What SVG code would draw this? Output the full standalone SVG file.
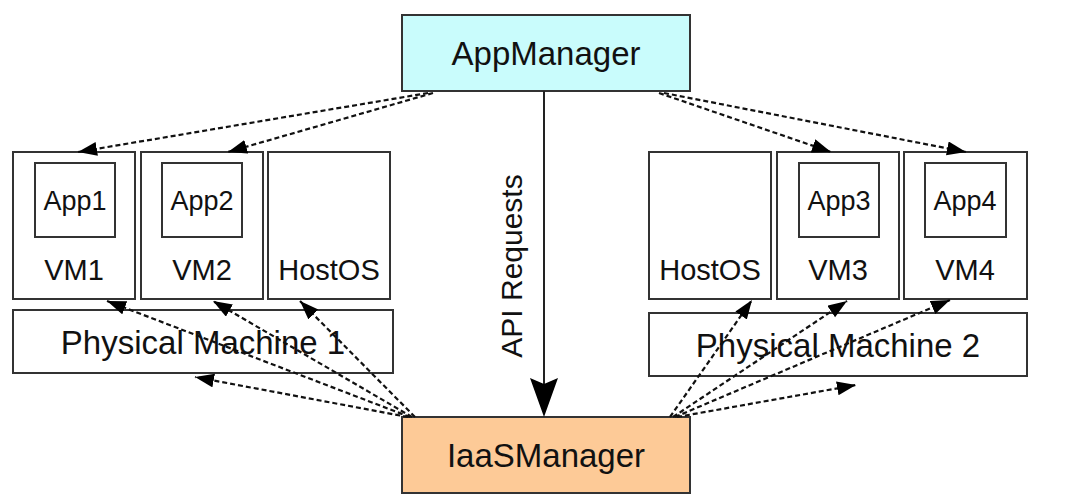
<svg xmlns="http://www.w3.org/2000/svg" width="1069" height="495" viewBox="0 0 1069 495">
  <style>
    .box { fill: #ffffff; stroke: #333333; stroke-width: 2; }
    .app { fill: #ffffff; stroke: #333333; stroke-width: 2; }
    .mgr-app { fill: #c9fcfc; stroke: #333333; stroke-width: 2; }
    .mgr-iaas { fill: #fdca97; stroke: #333333; stroke-width: 2; }
    text { font-family: "Liberation Sans", Arial, Helvetica, sans-serif; fill: #111111; text-anchor: middle; }
    .t-app { font-size: 27px; }
    .t-vm { font-size: 29px; }
    .t-pm { font-size: 33px; }
    .t-mgr { font-size: 33px; }
    .t-api { font-size: 30px; }
    .dash { fill: none; stroke: #111111; stroke-width: 2.2; stroke-dasharray: 5 3; marker-end: url(#head); }
    .solid { fill: none; stroke: #222222; stroke-width: 2; }
  </style>
  <defs>
    <marker id="head" markerUnits="userSpaceOnUse" markerWidth="20" markerHeight="15" refX="19" refY="7" orient="auto">
      <path d="M0,0 L19,7 L0,14 Z" fill="#000000"/>
    </marker>
  </defs>

  <rect width="1069" height="495" fill="#ffffff"/>

  <!-- managers -->
  <g id="appmanager">
    <rect class="mgr-app" x="402" y="15" width="288" height="76"/>
    <text class="t-mgr" x="546" y="65">AppManager</text>
  </g>
  <g id="iaasmanager">
    <rect class="mgr-iaas" x="402" y="417" width="288" height="76"/>
    <text class="t-mgr" x="546" y="467">IaaSManager</text>
  </g>

  <!-- physical machine 1 -->
  <g id="vm1">
    <rect class="box" x="13" y="152" width="122" height="147"/>
    <text class="t-vm" x="74" y="280">VM1</text>
  </g>
  <g id="app1">
    <rect class="app" x="35" y="163" width="80" height="74"/>
    <text class="t-app" x="75" y="210">App1</text>
  </g>
  <g id="vm2">
    <rect class="box" x="141" y="152" width="122" height="147"/>
    <text class="t-vm" x="202" y="280">VM2</text>
  </g>
  <g id="app2">
    <rect class="app" x="162" y="163" width="80" height="74"/>
    <text class="t-app" x="202" y="210">App2</text>
  </g>
  <g id="hostos1">
    <rect class="box" x="268" y="152" width="122" height="147"/>
    <text class="t-vm" x="329" y="280">HostOS</text>
  </g>
  <g id="pm1">
    <rect class="box" x="13" y="310" width="380" height="63"/>
    <text class="t-pm" x="203" y="354">Physical Machine 1</text>
  </g>

  <!-- physical machine 2 -->
  <g id="hostos2">
    <rect class="box" x="649" y="152" width="122" height="147"/>
    <text class="t-vm" x="710" y="280">HostOS</text>
  </g>
  <g id="vm3">
    <rect class="box" x="777" y="152" width="122" height="147"/>
    <text class="t-vm" x="838" y="280">VM3</text>
  </g>
  <g id="app3">
    <rect class="app" x="799" y="163" width="80" height="74"/>
    <text class="t-app" x="839" y="210">App3</text>
  </g>
  <g id="vm4">
    <rect class="box" x="904" y="152" width="123" height="147"/>
    <text class="t-vm" x="965" y="280">VM4</text>
  </g>
  <g id="app4">
    <rect class="app" x="925" y="163" width="81" height="74"/>
    <text class="t-app" x="965" y="210">App4</text>
  </g>
  <g id="pm2">
    <rect class="box" x="649" y="313" width="378" height="63"/>
    <text class="t-pm" x="838" y="357">Physical Machine 2</text>
  </g>

  <!-- connectors -->
  <g id="connectors">
    <!-- AppManager to the applications -->
    <line class="dash" x1="428" y1="93" x2="78" y2="152"/>
    <line class="dash" x1="433" y1="93" x2="228" y2="152"/>
    <line class="dash" x1="659" y1="93" x2="831" y2="152"/>
    <line class="dash" x1="664" y1="93" x2="966" y2="152"/>

    <!-- IaaSManager to machine 1 -->
    <line class="dash" x1="410" y1="417" x2="107" y2="301"/>
    <line class="dash" x1="412" y1="417" x2="213" y2="301"/>
    <line class="dash" x1="415" y1="417" x2="300" y2="301"/>
    <line class="dash" x1="408" y1="417" x2="195" y2="377"/>

    <!-- IaaSManager to machine 2 -->
    <line class="dash" x1="670" y1="417" x2="752" y2="300"/>
    <line class="dash" x1="673" y1="417" x2="847" y2="301"/>
    <line class="dash" x1="675" y1="417" x2="950" y2="300"/>
    <line class="dash" x1="677" y1="417" x2="856" y2="385"/>

    <!-- API requests -->
    <line class="solid" x1="544" y1="91" x2="544" y2="385"/>
    <path d="M530,378 L544,384 L558,378 L544,417 Z" fill="#000000"/>
    <text class="t-api" transform="translate(522,266) rotate(-90)">API Requests</text>
  </g>
</svg>
